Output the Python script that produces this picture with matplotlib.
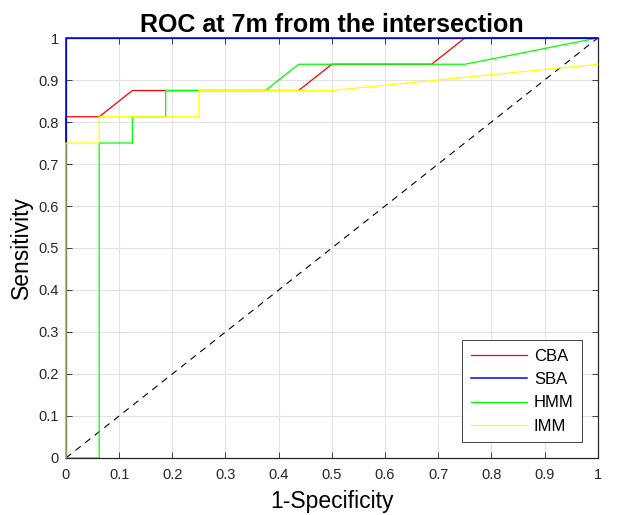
import numpy as np
import matplotlib.pyplot as plt

plt.rcParams['font.family'] = ['Liberation Sans', 'DejaVu Sans']

# ROC points (steps of 1/16)
cba_fpr = [0, 0, 0.0625, 0.125, 0.4375, 0.5, 0.6875, 0.75, 1]
cba_tpr = [0, 0.8125, 0.8125, 0.875, 0.875, 0.9375, 0.9375, 1, 1]

sba_fpr = [0, 0, 1]
sba_tpr = [0, 1, 1]

hmm_fpr = [0, 0.0625, 0.0625, 0.125, 0.125, 0.1875, 0.1875, 0.375, 0.4375, 0.75, 1]
hmm_tpr = [0, 0, 0.75, 0.75, 0.8125, 0.8125, 0.875, 0.875, 0.9375, 0.9375, 1]

imm_fpr = [0, 0, 0.0625, 0.0625, 0.25, 0.25, 0.5, 1]
imm_tpr = [0, 0.75, 0.75, 0.8125, 0.8125, 0.875, 0.875, 0.9375]

fig = plt.figure(figsize=(6.4, 5.15), dpi=100)
ax = fig.add_axes([0.103, 0.1107, 0.831, 0.8155])

ax.plot([0, 1], [0, 1], '--', color='k', lw=0.8, dashes=(6, 5))
# zorder: spines sit at 2.5, so blue/yellow land above the box, red/green below
ax.plot(cba_fpr, cba_tpr, color='#ff0000', lw=0.9, label='CBA', clip_on=False, zorder=2.2)
ax.plot(sba_fpr, sba_tpr, color='#0000ff', lw=1.1, label='SBA', clip_on=False, zorder=2.7)
ax.plot(hmm_fpr, hmm_tpr, color='#00ff00', lw=0.9, label='HMM', clip_on=False, zorder=2.4)
ax.plot(imm_fpr, imm_tpr, color='#ffff00', lw=0.9, label='IMM', clip_on=False, zorder=2.8)

ax.set_xlim(0, 1)
ax.set_ylim(0, 1)
ticks = np.round(np.arange(0, 1.01, 0.1), 1)
labels = ['0'] + [f'{t:g}' for t in ticks[1:-1]] + ['1']
ax.set_xticks(ticks)
ax.set_yticks(ticks)
ax.set_xticklabels(labels)
ax.set_yticklabels(labels)
ax.tick_params(direction='in', top=True, right=True, labelsize=10.5, length=4,
               width=0.6, colors='#262626')
ax.tick_params(axis='x', pad=7)
ax.tick_params(axis='y', pad=5)
ax.grid(True, color='#e3e3e3', lw=0.8)
ax.set_axisbelow(True)
for s in ax.spines.values():
    s.set_linewidth(0.9)
    s.set_color('#262626')

ax.set_xlabel('1-Specificity', fontsize=16.5, labelpad=6)
ax.set_ylabel('Sensitivity', fontsize=16.5, labelpad=4)
ax.set_title('ROC at 7m from the intersection', fontsize=18, fontweight='bold', pad=4)

leg = ax.legend(loc='lower right', fontsize=12, fancybox=False, framealpha=1,
                edgecolor='#262626', handlelength=3.4, borderaxespad=0.95,
                labelspacing=0.5, handletextpad=0.4, borderpad=0.5)
leg.get_frame().set_linewidth(0.6)

fig.savefig('out.png', dpi=100)
